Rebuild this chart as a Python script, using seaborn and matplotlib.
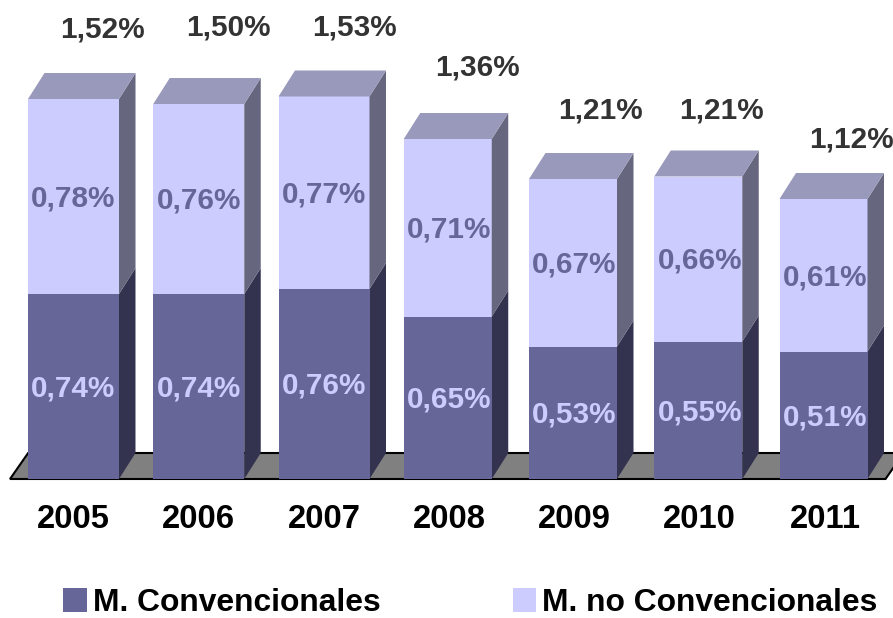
import matplotlib
matplotlib.use('Agg')
import matplotlib.pyplot as plt
import numpy as np
import pandas as pd
import seaborn as sns
from matplotlib.patches import Polygon, Patch

years = ['2005', '2006', '2007', '2008', '2009', '2010', '2011']
convencionales = [0.74, 0.74, 0.76, 0.65, 0.53, 0.55, 0.51]
no_convencionales = [0.78, 0.76, 0.77, 0.71, 0.67, 0.66, 0.61]
totales = [1.52, 1.50, 1.53, 1.36, 1.21, 1.21, 1.12]

# colores
DARK = '#666699'
LIGHT = '#CCCCFF'
TOP_LIGHT = '#9999BB'
SIDE_LIGHT = '#66667F'
SIDE_DARK = '#333350'
FLOOR = '#808080'

W, H = 893, 618
BASE = 479  # fila del suelo en pixeles
PX_X = 125.25
PX_Y = 250.0
DX = 16.5 / PX_X
DY = 26 / PX_Y
TXT_DOWN = 2 / PX_Y

# ancho de cada barra en pixeles, el original no es uniforme
bar_px = [91, 91, 91, 88, 88, 88, 88]

# desplazamiento de las etiquetas de total (pixeles respecto al centro / techo)
total_off_x = [29, 30, 30, 28, 26, 22, 26]
total_off_y = [71, 78, 71, 73, 70, 68, 61]


def pct(v):
    return f'{v:.2f}%'.replace('.', ',')


sns.set_style('white')
plt.rcParams['font.family'] = ['Liberation Sans', 'DejaVu Sans']

df = pd.DataFrame({'year': years, 'conv': convencionales, 'noconv': no_convencionales})
df['stack'] = df['conv'] + df['noconv']

fig = plt.figure(figsize=(W / 100, H / 100), dpi=100)
ax = fig.add_axes([0, (H - BASE) / H, 1, BASE / H])

sns.barplot(data=df, x='year', y='stack', color=LIGHT, saturation=1, width=91 / PX_X, linewidth=0, ax=ax, zorder=2)
sns.barplot(data=df, x='year', y='conv', color=DARK, saturation=1, width=91 / PX_X, linewidth=0, ax=ax, zorder=3)

ax.set_xlim(-73.5 / PX_X, (W - 73.5) / PX_X)
ax.set_ylim(0, BASE / PX_Y)

n = len(years)
upper = ax.patches[:n]
lower = ax.patches[n:]
for up, lo, px in zip(upper, lower, bar_px):
    up.set_width(px / PX_X)
    lo.set_width(px / PX_X)

# suelo
x0 = upper[0].get_x() - 18 / PX_X
x1 = upper[-1].get_x() + upper[-1].get_width() + 18 / PX_X
ax.add_patch(Polygon([(x0, 0), (x0 + DX * 1.1, DY), (x1 + DX * 1.1, DY), (x1, 0)], closed=True,
                     facecolor=FLOOR, edgecolor='black', lw=1.5, zorder=1, clip_on=False))

# caras laterales y tapas del efecto 3D
for i, (up, lo) in enumerate(zip(upper, lower)):
    left = up.get_x()
    right = left + up.get_width()
    mid = lo.get_height()
    top = up.get_height()
    ax.add_patch(Polygon([(right, 0), (right + DX, DY), (right + DX, mid + DY), (right, mid)],
                         closed=True, facecolor=SIDE_DARK, edgecolor='none', zorder=2))
    ax.add_patch(Polygon([(right, mid), (right + DX, mid + DY), (right + DX, top + DY), (right, top)],
                         closed=True, facecolor=SIDE_LIGHT, edgecolor='none', zorder=2))
    ax.add_patch(Polygon([(left, top), (left + DX, top + DY), (right + DX, top + DY), (right, top)],
                         closed=True, facecolor=TOP_LIGHT, edgecolor='none', zorder=2))

    ax.text(i, mid / 2 - TXT_DOWN, pct(convencionales[i]), ha='center', va='center', color=LIGHT,
            fontsize=21.4, fontweight='bold', zorder=5)
    ax.text(i, mid + no_convencionales[i] * 0.5 - TXT_DOWN, pct(no_convencionales[i]), ha='center',
            va='center', color=DARK, fontsize=21.4, fontweight='bold', zorder=5)
    ax.text(i + total_off_x[i] / PX_X, top + total_off_y[i] / PX_Y - TXT_DOWN, pct(totales[i]), ha='center',
            va='center', color='#333333', fontsize=21.4, fontweight='bold', zorder=5)

ax.set_xlabel('')
ax.set_ylabel('')
ax.set_yticks([])
ax.tick_params(axis='x', length=0, pad=18, labelsize=23.6)
for lab in ax.get_xticklabels():
    lab.set_fontweight('bold')
    lab.set_color('black')
sns.despine(ax=ax, left=True, bottom=True)
ax.patch.set_alpha(0)

handles = [Patch(facecolor=DARK, linewidth=0, label='M. Convencionales'),
           Patch(facecolor=LIGHT, linewidth=0, label='M. no Convencionales')]
leg = fig.legend(handles=handles, loc='lower left', bbox_to_anchor=(63 / W, 0 / H), ncol=2, frameon=False,
                 prop={'size': 22.9, 'weight': 'bold'}, handlelength=0.75, handleheight=0.75,
                 handletextpad=0.19, columnspacing=4.15, borderpad=0, borderaxespad=0)
for t in leg.get_texts():
    t.set_color('black')

fig.savefig('out.png', dpi=100)
